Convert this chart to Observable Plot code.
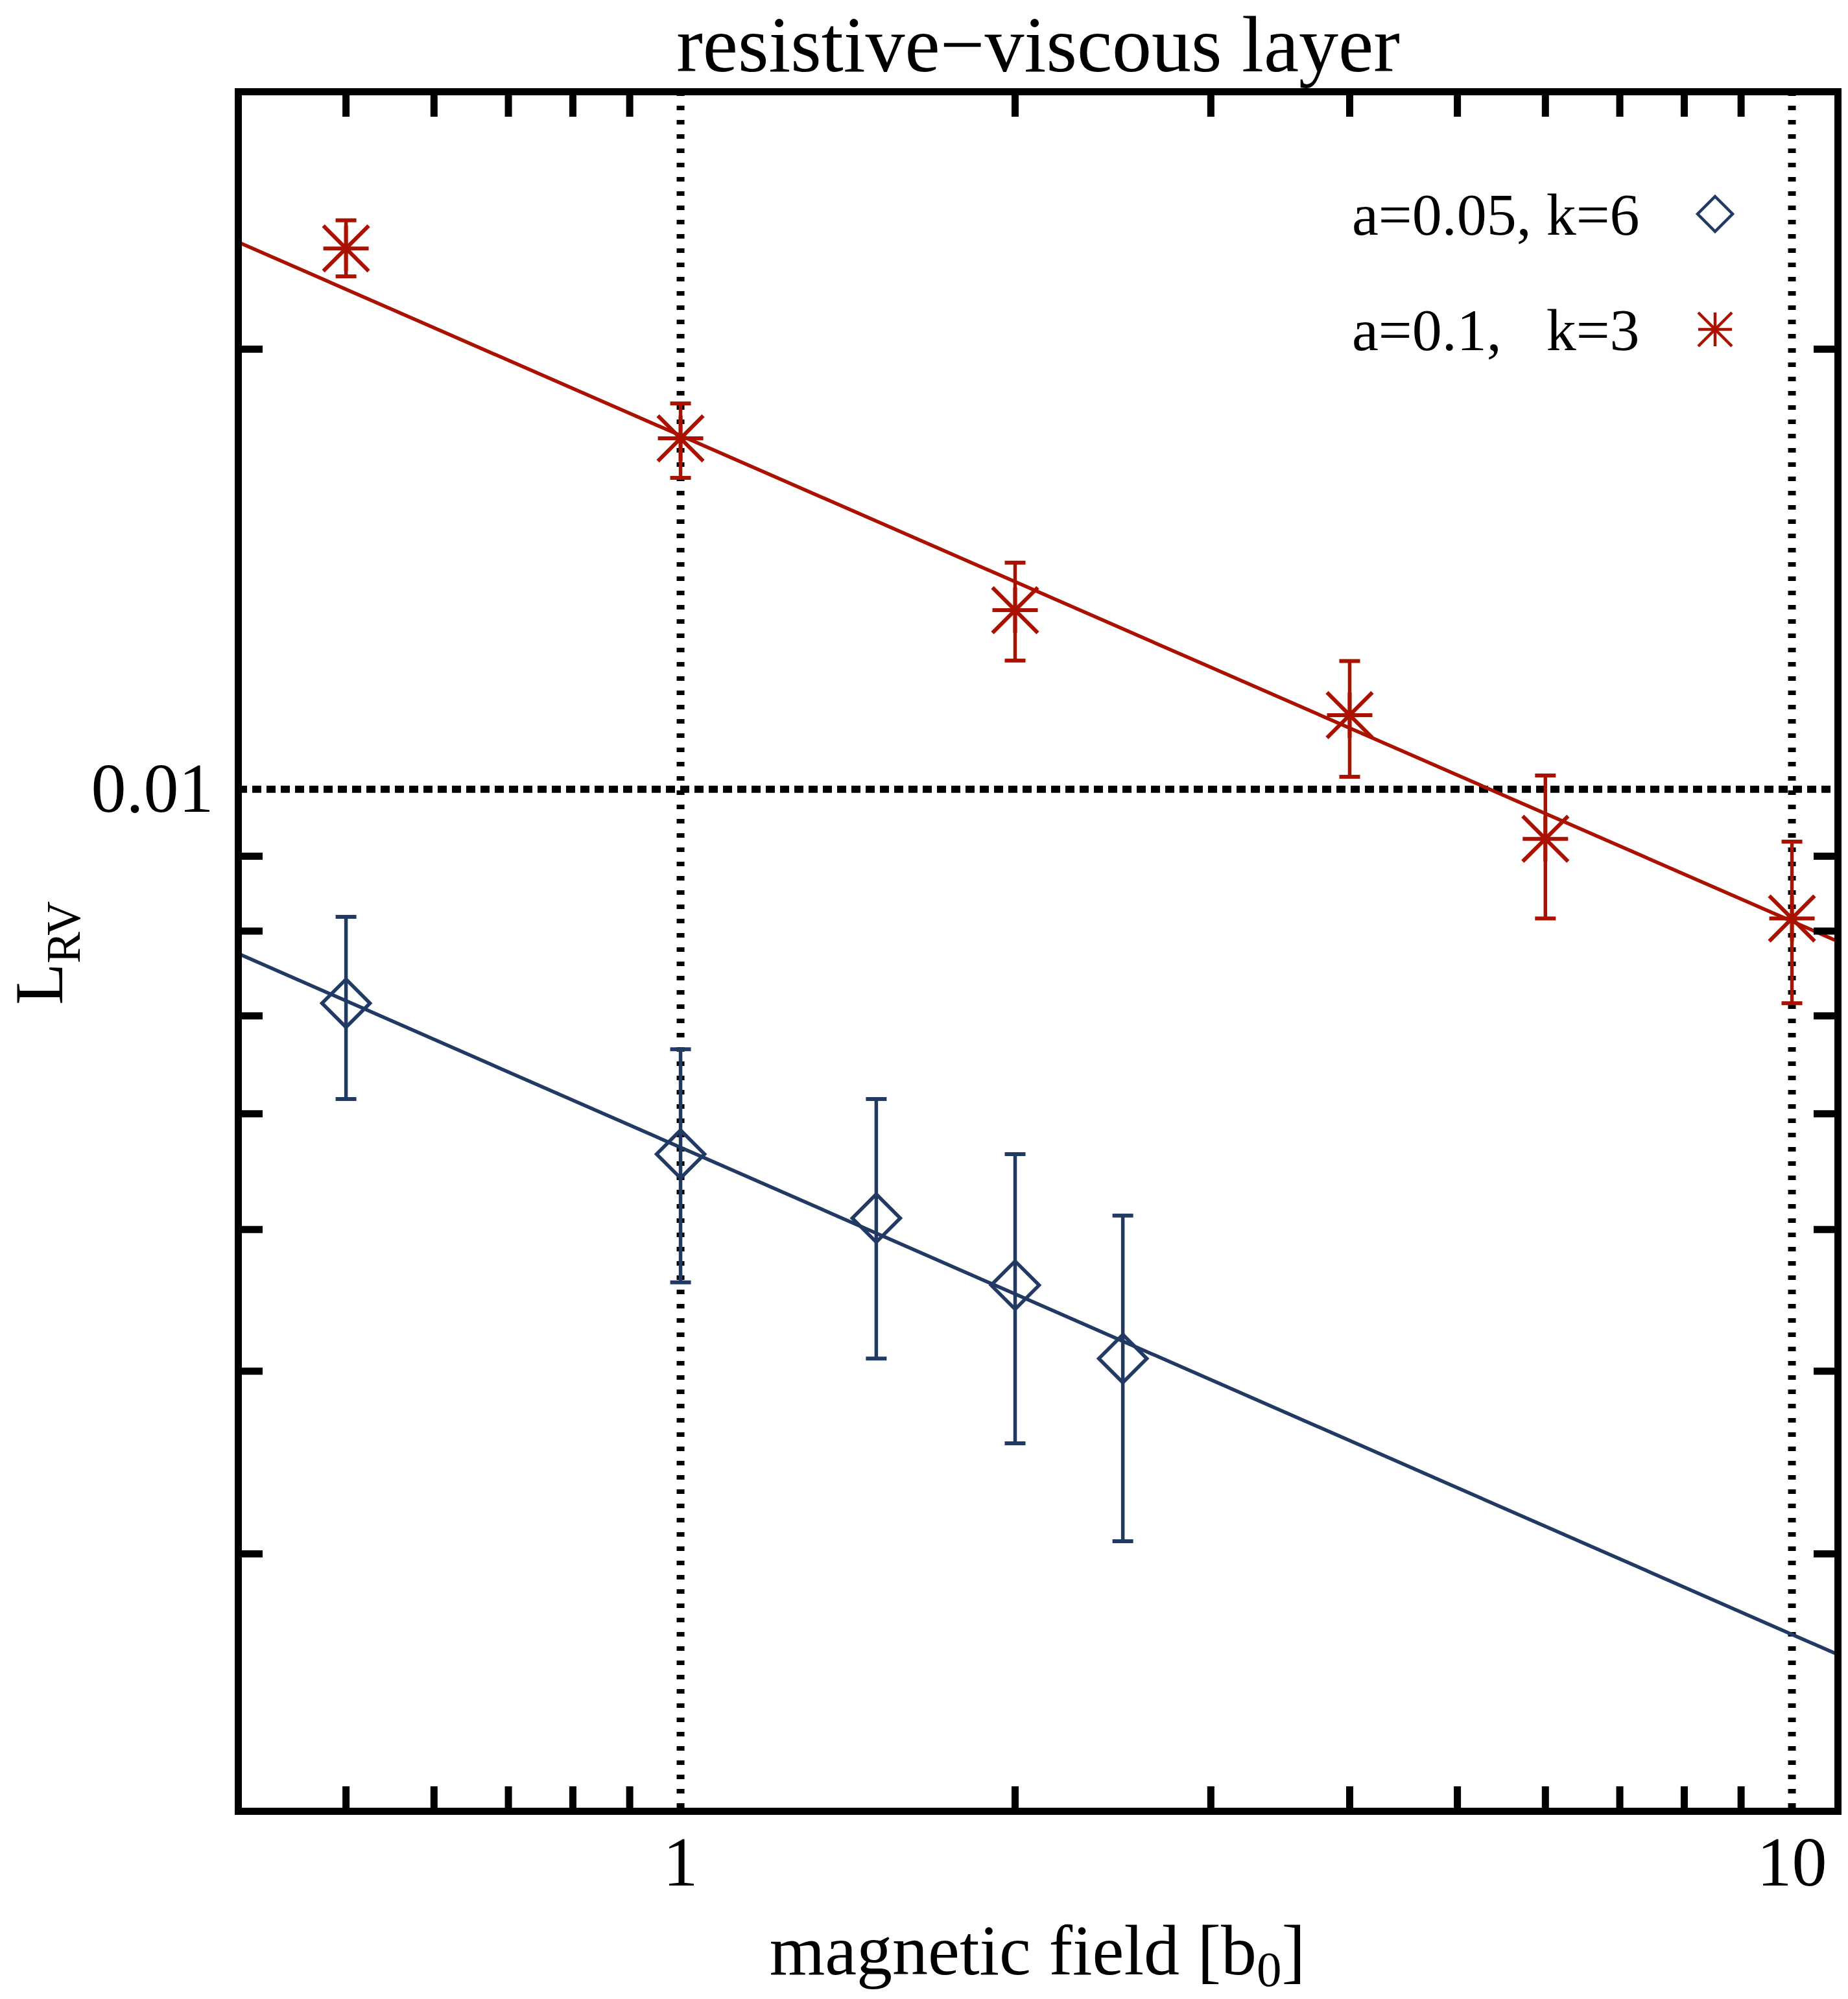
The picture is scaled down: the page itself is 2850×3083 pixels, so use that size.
<!DOCTYPE html>
<html><head><meta charset="utf-8">
<script src="https://cdn.jsdelivr.net/npm/d3@7"></script>
<script src="https://cdn.jsdelivr.net/npm/@observablehq/plot@0.6"></script>
<style>body{margin:0;background:#fff} svg{display:block}</style>
</head><body><div id="chart"></div>
<script>
// ---- data ----
const redX  = [0.5, 1, 2, 4, 6, 10];
const redY  = [0.02344, 0.01738, 0.01326, 0.01124, 0.00925, 0.00816];
const redLo = [0.02243, 0.01633, 0.01225, 0.0102, 0.00816, 0.00714];
const redHi = [0.0245, 0.01836, 0.01429, 0.01224, 0.01022, 0.00921];
const blueX  = [0.5, 1, 1.5, 2, 2.5];
const blueY  = [0.00714, 0.00563, 0.00509, 0.00458, 0.00408];
const blueLo = [0.00614, 0.0046, 0.00408, 0.00357, 0.00306];
const blueHi = [0.00818, 0.00664, 0.00614, 0.00563, 0.00511];
const fitX    = [0.4, 11];
const redFit  = [0.02367, 0.00787];
const blueFit = [0.00772, 0.00256];
const xMinorTicks = [0.5, 0.6, 0.7, 0.8, 0.9, 2, 3, 4, 5, 6, 7, 8, 9];
const yMinorTicks = [0.003, 0.004, 0.005, 0.006, 0.007, 0.008, 0.009, 0.02];
const xLabelTicks = [1, 10];
const yLabelTicks = [0.01];
const gridX = [1, 10];
const gridY = [0.01];
const legendLabels = ["a=0.05, k=6", "a=0.1,   k=3"];
const titleText = "resistive\u2212viscous layer";

const RED = "#aa1100", BLUE = "#213a63";
const FONT = "Liberation Serif, Times New Roman, serif";

// custom symbols (r = dot radius)
const rOf = s => Math.sqrt(s / Math.PI);
const symAsterisk = {draw(c, s) { const r = rOf(s);
  c.moveTo(-r, 0); c.lineTo(r, 0); c.moveTo(0, -r); c.lineTo(0, r);
  c.moveTo(-r, -r); c.lineTo(r, r); c.moveTo(-r, r); c.lineTo(r, -r); }};
const symDiamond = {draw(c, s) { const r = rOf(s);
  c.moveTo(0, -r); c.lineTo(r, 0); c.lineTo(0, r); c.lineTo(-r, 0); c.closePath(); }};
const symCap = {draw(c, s) { const r = rOf(s); c.moveTo(-r, 0); c.lineTo(r, 0); }};

const red = redX.map((x, i) => ({x, y: redY[i], lo: redLo[i], hi: redHi[i]}));
const blue = blueX.map((x, i) => ({x, y: blueY[i], lo: blueLo[i], hi: blueHi[i]}));
const fits = fitX.flatMap((x, i) => [{x, y: redFit[i], s: "red"}, {x, y: blueFit[i], s: "blue"}]);

const tickW = 11, tickL = -38;
const plot = Plot.plot({
  width: 2850, height: 3083,
  marginLeft: 367, marginRight: 16, marginTop: 141, marginBottom: 290,
  x: {type: "log", domain: [0.4, 11], axis: null},
  y: {type: "log", domain: [0.002, 0.03], axis: null},
  style: {fontFamily: FONT, background: "white", color: "black"},
  marks: [
    Plot.ruleX(gridX, {stroke: "black", strokeWidth: 12, strokeDasharray: "7,15"}),
    Plot.ruleY(gridY, {stroke: "black", strokeWidth: 11, strokeDasharray: "14,8"}),
    Plot.line(fits.filter(d => d.s === "red"), {x: "x", y: "y", stroke: RED, strokeWidth: 5.5}),
    Plot.line(fits.filter(d => d.s === "blue"), {x: "x", y: "y", stroke: BLUE, strokeWidth: 5.5}),
    Plot.ruleX(red, {x: "x", y1: "lo", y2: "hi", stroke: RED, strokeWidth: 5.5}),
    Plot.ruleX(blue, {x: "x", y1: "lo", y2: "hi", stroke: BLUE, strokeWidth: 5.5}),
    Plot.dot(red, {x: "x", y: "lo", symbol: symCap, r: 16, stroke: RED, fill: "none", strokeWidth: 6}),
    Plot.dot(red, {x: "x", y: "hi", symbol: symCap, r: 16, stroke: RED, fill: "none", strokeWidth: 6}),
    Plot.dot(blue, {x: "x", y: "lo", symbol: symCap, r: 16, stroke: BLUE, fill: "none", strokeWidth: 6}),
    Plot.dot(blue, {x: "x", y: "hi", symbol: symCap, r: 16, stroke: BLUE, fill: "none", strokeWidth: 6}),
    Plot.dot(red, {x: "x", y: "y", symbol: symAsterisk, r: 35, stroke: RED, fill: "none", strokeWidth: 6}),
    Plot.dot(blue, {x: "x", y: "y", symbol: symDiamond, r: 37, stroke: BLUE, fill: "none", strokeWidth: 5.5}),
    Plot.axisX(xMinorTicks, {anchor: "bottom", tickSize: tickL, fill: "none", stroke: "black", strokeWidth: tickW, label: null}),
    Plot.axisX(xMinorTicks, {anchor: "top", tickSize: tickL, fill: "none", stroke: "black", strokeWidth: tickW, label: null}),
    Plot.axisY(yMinorTicks, {anchor: "left", tickSize: tickL, fill: "none", stroke: "black", strokeWidth: tickW, label: null}),
    Plot.axisY(yMinorTicks, {anchor: "right", tickSize: tickL, fill: "none", stroke: "black", strokeWidth: tickW, label: null}),
    Plot.axisX(xLabelTicks, {anchor: "bottom", tickSize: 0, tickPadding: 38, fontSize: 108, fontFamily: FONT, fill: "black", label: null, tickFormat: d => String(d)}),
    Plot.axisY(yLabelTicks, {anchor: "left", tickSize: 0, tickPadding: 38, fontSize: 108, fontFamily: FONT, fill: "black", label: null, tickFormat: d => String(d)}),
    Plot.frame({stroke: "black", strokeWidth: 11})
  ]
});

const svg = d3.select(plot);
// title
svg.append("text").attr("x", 1601).attr("y", 110).attr("text-anchor", "middle")
  .attr("font-family", FONT).attr("font-size", 122).attr("fill", "black").text(titleText);
// x label
const xl = svg.append("text").attr("x", 1600).attr("y", 3045).attr("text-anchor", "middle")
  .attr("font-family", FONT).attr("font-size", 110).attr("fill", "black");
xl.append("tspan").text("magnetic field [b");
xl.append("tspan").attr("font-size", 77).attr("dy", 18).text("0");
xl.append("tspan").attr("dy", -18).text("]");
// y label
const yl = svg.append("text").attr("transform", "translate(96,1470) rotate(-90)").attr("text-anchor", "middle")
  .attr("font-family", FONT).attr("font-size", 105).attr("fill", "black");
yl.append("tspan").text("L");
yl.append("tspan").attr("font-size", 73).attr("dy", 27).text("RV");
// legend
const lg = svg.append("g");
const rows = [{label: legendLabels[0], sym: symDiamond, r: 27, color: BLUE, base: 362},
              {label: legendLabels[1], sym: symAsterisk, r: 26, color: RED, base: 540}];
rows.forEach(row => {
  lg.append("text").attr("x", 2085).attr("y", row.base).attr("text-anchor", "start").attr("xml:space", "preserve")
    .style("white-space", "pre").attr("font-family", FONT).attr("font-size", 92).attr("fill", "black").text(row.label);
  lg.append("path").attr("transform", `translate(2645,${row.base - 32})`)
    .attr("d", d3.symbol(row.sym, row.r * row.r * Math.PI)())
    .attr("fill", "none").attr("stroke", row.color).attr("stroke-width", 4.5);
});

document.getElementById("chart").appendChild(plot);
</script>
</body></html>
